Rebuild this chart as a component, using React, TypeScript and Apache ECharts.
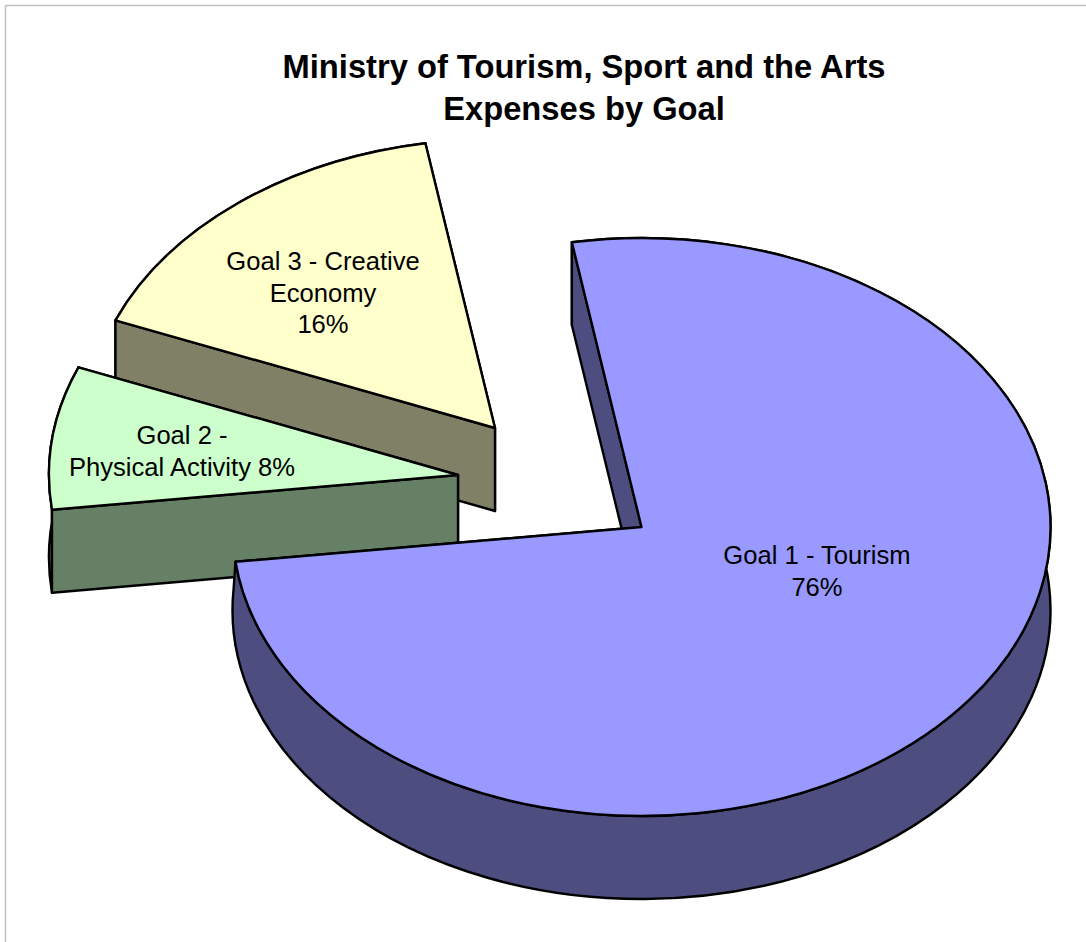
import React, { useEffect, useRef } from "react";
import * as echarts from "echarts";

const categories = ["Goal 1 - Tourism", "Goal 2 - Physical Activity", "Goal 3 - Creative Economy"];
const values = [75.8, 8.0, 16.2];
const labelLines = [
  ["Goal 1 - Tourism", "76%"],
  ["Goal 2 -", "Physical Activity 8%"],
  ["Goal 3 - Creative", "Economy", "16%"],
];
const titleLines = ["Ministry of Tourism, Sport and the Arts", "Expenses by Goal"];
const topColors = ["#9999FF", "#CCFFCC", "#FFFFCC"];
const sideColors = ["#4D4D80", "#668066", "#808066"];

const WIDTH = 1086;
const HEIGHT = 942;
const RX = 409;
const RY = 289;
const DEPTH = 83;
const START_DEG = -9.8;
const APEX = [[641.5, 527], [458, 475], [495, 428]];
const LABEL_POS = [[817, 571], [182, 451], [323, 292.5]];
const FONT = '"Liberation Sans", Arial, sans-serif';
const LABEL_SIZE = 25.6;
const LABEL_LH = 31.5;
const STROKE = { stroke: "#000", lineWidth: 2.4, lineJoin: "round" };

const total = values.reduce((a, b) => a + b, 0);

function pt(c: number[], deg: number, dy = 0) {
  const r = (deg * Math.PI) / 180;
  return [c[0] + RX * Math.sin(r), c[1] - RY * Math.cos(r) + dy];
}
function arcTo(c: number[], from: number, to: number, dy = 0) {
  const p = pt(c, to, dy);
  const large = Math.abs(to - from) > 180 ? 1 : 0;
  const sweep = to > from ? 1 : 0;
  return `A${RX} ${RY} 0 ${large} ${sweep} ${p[0]} ${p[1]}`;
}
function quad(a: number[], b: number[]) {
  return `M${a[0]} ${a[1]}L${b[0]} ${b[1]}L${b[0]} ${b[1] + DEPTH}L${a[0]} ${a[1] + DEPTH}Z`;
}

function renderSlice(params: any, api: any) {
  const i = params.dataIndex;
  const before = values.slice(0, i).reduce((a, b) => a + b, 0);
  const from = START_DEG + (before / total) * 360;
  const to = from + (api.value(0) / total) * 360;
  const c = APEX[i];
  const a = pt(c, from);
  const b = pt(c, to);
  const aa = pt(c, from, DEPTH);
  const base = (2 - i) * 10;

  // The lower rim of the wall runs on round the ellipse's left extreme when a slice stops just short of it.
  const rimEnd = to > 180 && to < 270 ? 270 + (270 - to) * 0.6 : to;
  const re = pt(c, rimEnd, DEPTH);
  const outer = `M${a[0]} ${a[1]}${arcTo(c, from, to)}L${re[0]} ${re[1]}${arcTo(c, rimEnd, from, DEPTH)}L${aa[0]} ${aa[1]}Z`;
  const top = `M${c[0]} ${c[1]}L${a[0]} ${a[1]}${arcTo(c, from, to)}Z`;
  const side = { fill: sideColors[i], ...STROKE };
  const path = (d: string, style: any, z2: number) => ({ type: "path", z2, shape: { pathData: d }, style });

  const texts = labelLines[i].map((line, k) => ({
    type: "text",
    z2: 100,
    style: {
      text: line,
      x: LABEL_POS[i][0],
      y: LABEL_POS[i][1] + (k - (labelLines[i].length - 1) / 2) * LABEL_LH,
      align: "center",
      verticalAlign: "middle",
      fill: "#000",
      font: `${LABEL_SIZE}px ${FONT}`,
    },
  }));

  return {
    type: "group",
    children: [
      path(quad(c, b), side, base),
      path(outer, side, base + 1),
      path(quad(c, a), side, base + 2),
      path(top, { fill: topColors[i], ...STROKE }, base + 3),
      ...texts,
    ],
  };
}

export default function App() {
  const ref = useRef<HTMLDivElement>(null);
  useEffect(() => {
    const chart = echarts.init(ref.current!, null, { renderer: "svg", width: WIDTH, height: HEIGHT });
    chart.setOption({
      animation: false,
      backgroundColor: "#ffffff",
      title: titleLines.map((t, k) => ({
        text: t,
        left: 579,
        top: 45 + k * 42,
        textAlign: "center",
        textStyle: { fontFamily: FONT, fontWeight: "bold", fontSize: 32.7, color: "#000" },
      })),
      graphic: [
        { type: "line", shape: { x1: 5.5, y1: 5.5, x2: WIDTH, y2: 5.5 }, style: { stroke: "#C0C0C0", lineWidth: 1.5 } },
        { type: "line", shape: { x1: 5.5, y1: 5.5, x2: 5.5, y2: HEIGHT }, style: { stroke: "#C0C0C0", lineWidth: 1.5 } },
      ],
      series: [
        {
          type: "custom",
          coordinateSystem: "none",
          silent: true,
          clip: false,
          renderItem: renderSlice,
          data: categories.map((name, i) => ({ name, value: [values[i]] })),
        },
      ],
    });
    return () => chart.dispose();
  }, []);
  return <div ref={ref} style={{ position: "fixed", left: 0, top: 0, width: WIDTH, height: HEIGHT }} />;
}
